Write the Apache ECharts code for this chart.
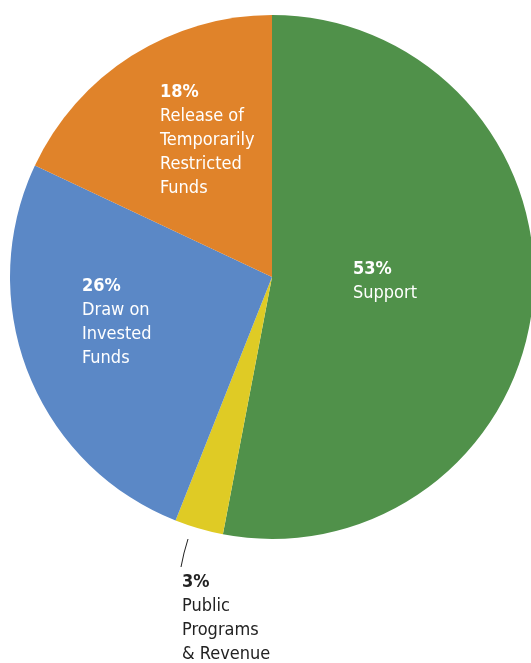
<!DOCTYPE html>
<html>
<head>
<meta charset="utf-8">
<title>Revenue sources</title>
<script src="https://cdn.jsdelivr.net/npm/echarts@6/dist/echarts.min.js"></script>
<style>
html,body{margin:0;padding:0;background:#fff;}
#chart{width:531px;height:663px;}
</style>
</head>
<body>
<div id="chart"></div>
<script>
// slice data, clockwise from 12 o'clock
var names = ['Support', 'Public\nPrograms\n& Revenue', 'Draw on\nInvested\nFunds', 'Release of\nTemporarily\nRestricted\nFunds'];
var values = [53, 3, 26, 18];
var colors = ['#50914a', '#dfcb25', '#5b88c6', '#e0832a'];

// where each label block starts (top-left)
var labelPos = [[353, 257], [182, 570], [82, 274], [160, 80]];

var FONT = '"DejaVu Sans Condensed", "Liberation Sans Narrow", sans-serif';

var chart = echarts.init(document.getElementById('chart'));

var pieData = names.map(function (n, i) {
    var item = {value: values[i], name: n, itemStyle: {color: colors[i]}};
    if (i === 1) {
        item.label = {position: 'outside', color: '#222'};
        item.labelLine = {show: true, lineStyle: {color: '#222', width: 1}};
    }
    return item;
});

var option = {
    backgroundColor: '#fff',
    animation: false,
    series: [
        {
            type: 'pie',
            center: [272, 277],
            radius: [0, 262],
            startAngle: 90,
            clockwise: true,
            silent: true,
            avoidLabelOverlap: false,
            data: pieData,
            label: {
                show: true,
                position: 'inside',
                color: '#fff',
                overflow: 'none',
                fontFamily: FONT,
                fontSize: 18,
                lineHeight: 24,
                formatter: function (p) {
                    var lines = p.name.split('\n').map(function (s) { return '{t|' + s + '}'; });
                    return '{b|' + p.value + '%}\n' + lines.join('\n');
                },
                rich: {
                    b: {fontWeight: 'bold', fontSize: 18, lineHeight: 24, fontFamily: FONT},
                    t: {fontSize: 18, lineHeight: 24, fontFamily: FONT}
                }
            },
            labelLine: {show: false},
            labelLayout: function (p) {
                var pos = labelPos[p.dataIndex];
                var res = {x: pos[0], y: pos[1], align: 'left', verticalAlign: 'top', hideOverlap: false};
                if (p.dataIndex === 1) {
                    res.labelLinePoints = [[188, 539], [184, 553], [181, 567]];
                }
                return res;
            }
        }
    ]
};

chart.setOption(option);
</script>
</body>
</html>
